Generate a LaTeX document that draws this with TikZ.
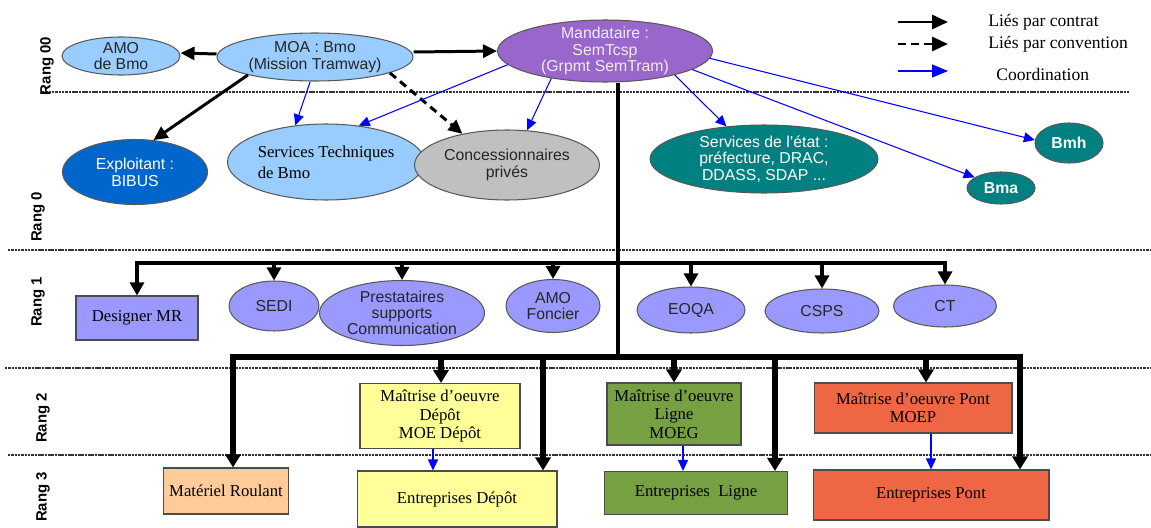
\documentclass[tikz,border=0pt]{standalone}
\usepackage{fontspec}
\setmainfont{Liberation Serif}
\setsansfont{Liberation Sans}
\usetikzlibrary{arrows.meta, shapes.geometric, calc}
\definecolor{cltblue}{HTML}{99CCFF}
\definecolor{cpurple}{HTML}{9966CC}
\definecolor{cdkblue}{HTML}{0066CC}
\definecolor{cgrey}{HTML}{C0C0C0}
\definecolor{cteal}{HTML}{008080}
\definecolor{cperi}{HTML}{9999FF}
\definecolor{cyellow}{HTML}{FFFF99}
\definecolor{cgreen}{HTML}{77A043}
\definecolor{cred}{HTML}{EE6644}
\definecolor{corange}{HTML}{FFCC99}
\tikzset{
  ell/.style={ellipse, draw=black!65, fill=#1, align=center, inner sep=-1.5pt, line width=0.6pt, text=black!85, font=\sffamily\fontsize{9}{9.5}\selectfont},
  rect/.style={rectangle, draw=black!70, fill=#1, align=center, inner sep=1pt, line width=0.6pt, font=\rmfamily\fontsize{9.5}{10.5}\selectfont},
  contract/.style={-{Triangle[length=0.28cm, width=0.26cm]}, line width=1.7pt},
  convention/.style={contract, dash pattern=on 4.5pt off 3pt},
  coord/.style={-{Triangle[length=0.22cm, width=0.2cm]}, draw=blue, line width=0.6pt},
  bus/.style={-{Triangle[length=0.26cm, width=0.28cm]}, line width=1.8pt},
  busbig/.style={-{Triangle[length=0.26cm, width=0.3cm]}, line width=2.9pt},
  sep/.style={draw=black!80, line width=0.7pt, dash pattern=on 1.4pt off 0.5pt},
  rang/.style={rotate=90, font=\sffamily\bfseries\fontsize{8.5}{9}\selectfont},
}
\begin{document}
\begin{tikzpicture}[x=0.02cm, y=-0.02cm, lbl/.style={font=\rmfamily\fontsize{10}{11}\selectfont, anchor=west, inner sep=0pt}]
\useasboundingbox (0,0) rectangle (1151,527);
% separations des rangs
\draw[sep] (42,92) -- (1130,92);
\draw[sep] (8,250) -- (1151,250);
\draw[sep] (5,368) -- (1151,368);
\draw[sep] (8,455) -- (1151,455);
\node[rang] (r00) at (47,66) {Rang 00};
\node[rang] (r0) at (38,217) {Rang 0};
\node[rang] (r1) at (38,302) {Rang 1};
\node[rang] (r2) at (43,418) {Rang 2};
\node[rang] (r3) at (43,497) {Rang 3};
% legende
\node[lbl] (lg1) at (988,22) {Liés par contrat};
\node[lbl] (lg2) at (988,44) {Liés par convention};
\node[lbl] (lg3) at (996,74) {Coordination};
\draw[contract, -{Triangle[length=0.32cm, width=0.28cm]}] ($(lg1.west)+(-90,0)$) -- ($(lg1.west)+(-40,0)$);
\draw[convention, -{Triangle[length=0.32cm, width=0.28cm]}] ($(lg2.west)+(-90,0)$) -- ($(lg2.west)+(-40,0)$);
\draw[coord, -{Triangle[length=0.32cm, width=0.26cm]}] ($(lg3.west)+(-98,-3)$) -- ($(lg3.west)+(-48,-3)$);
% Rang 00
\node[ell=cltblue, minimum width=2.36cm, minimum height=0.76cm] (amo) at (121,56) {AMO\\de Bmo};
\node[ell=cltblue, minimum width=3.92cm, minimum height=0.96cm] (moa) at (315,57) {MOA : Bmo\\(Mission Tramway)};
\node[ell=cpurple, minimum width=4.3cm, minimum height=1.24cm, text=white!93!black] (mand) at (605,51) {Mandataire :\\SemTcsp\\(Grpmt SemTram)};
% Rang 0
\node[ell=cdkblue, minimum width=2.9cm, minimum height=1.3cm, text=white] (expl) at (135,172) {Exploitant :\\BIBUS};
\node[ell=cltblue, minimum width=3.94cm, minimum height=1.52cm, align=left, text=black, font=\rmfamily\fontsize{9.5}{12}\selectfont] (stech) at (326,162) {Services Techniques\\de Bmo};
\node[ell=cgrey, minimum width=3.7cm, minimum height=1.4cm] (conc) at (507,165) {Concessionnaires\\privés};
\node[ell=cteal, minimum width=4.56cm, minimum height=1.36cm, text=white] (etat) at (764,159) {Services de l'état :\\préfecture, DRAC,\\DDASS, SDAP ...};
\node[ell=cteal, minimum width=1.36cm, minimum height=0.8cm, text=white, font=\sffamily\bfseries\fontsize{9}{9.5}\selectfont] (bmh) at (1069,143) {Bmh};
\node[ell=cteal, minimum width=1.36cm, minimum height=0.64cm, text=white, font=\sffamily\bfseries\fontsize{9}{9.5}\selectfont] (bma) at (1001,188) {Bma};
\draw[contract] ([yshift=0.06cm]moa.west) -- ([yshift=0.06cm]amo.east);
\draw[contract] ([yshift=0.1cm]moa.east) -- (mand.west);
\draw[contract] (moa.195) -- (expl.60);
\draw[convention] (moa.348) -- (conc.145);
\draw[coord] (moa.259) -- (stech.130);
\draw[coord] (mand.188) -- (stech.48);
\draw[coord] (mand.207) -- (conc.60);
\draw[coord] (mand.341) -- (etat.139);
\draw[coord] (mand.348) -- (bma.158);
\draw[coord] (mand.356) -- (bmh.175);
% Rang 1
\node[rect=cperi, minimum width=2.44cm, minimum height=0.88cm] (designer) at (137,318) {Designer MR};
\node[ell=cperi, minimum width=1.8cm, minimum height=1.0cm] (sedi) at (274,306) {SEDI};
\node[ell=cperi, minimum width=3.3cm, minimum height=1.3cm, font=\sffamily\fontsize{9}{9}\selectfont] (prest) at (402,313) {Prestataires\\supports\\Communication};
\node[ell=cperi, minimum width=1.88cm, minimum height=1.06cm] (amof) at (553,306) {AMO\\Foncier};
\node[ell=cperi, minimum width=2.16cm, minimum height=0.92cm] (eoqa) at (691,310) {EOQA};
\node[ell=cperi, minimum width=2.28cm, minimum height=0.88cm] (csps) at (822,311) {CSPS};
\node[ell=cperi, minimum width=2.06cm, minimum height=0.84cm] (ct) at (945,306) {CT};
\coordinate (j1) at (618,263);
\coordinate (j2) at (618,357);
\draw[line width=2.3pt] (mand.south -| j1) -- (j2);
\draw[bus] (j1) -| (designer.north);
\draw[bus] (j1) -| (ct.north);
\foreach \n in {sedi,prest,amof,eoqa,csps}
  \draw[bus] (\n.north |- j1) -- (\n.north);
% Rang 2
\node[rect=cyellow, minimum width=3.2cm, minimum height=1.3cm] (moed) at (440,416) {Maîtrise d'oeuvre\\Dépôt\\MOE Dépôt};
\node[rect=cgreen, minimum width=2.68cm, minimum height=1.24cm] (moel) at (674,414) {Maîtrise d'oeuvre\\Ligne\\MOEG};
\node[rect=cred, minimum width=3.96cm, minimum height=1.0cm] (moep) at (913,408) {Maîtrise d'oeuvre Pont\\MOEP};
% Rang 3
\node[rect=corange, minimum width=2.5cm, minimum height=0.92cm] (matr) at (226,491) {Matériel Roulant};
\node[rect=cyellow, minimum width=4.0cm, minimum height=1.12cm] (entd) at (457,499) {Entreprises Dépôt};
\node[rect=cgreen, minimum width=3.66cm, minimum height=0.86cm] (entl) at (696,493) {Entreprises~~Ligne};
\node[rect=cred, minimum width=4.72cm, minimum height=1.0cm] (entp) at (931,495) {Entreprises Pont};
\coordinate (b2l) at (233,357);
\coordinate (b2r) at (1020,357);
\draw[busbig] (j2) -- (b2l) -- (b2l |- matr.north);
\draw[busbig] (j2) -- (b2r) -- (b2r |- entp.north);
\foreach \xx/\n in {441/moed, 543/entd, 674/moel, 775/entl, 926/moep} {
  \coordinate (d) at (\xx,357);
  \draw[busbig] (d) -- (d |- \n.north);
}
\draw[coord] ([xshift=-0.14cm]moed.south) -- ([xshift=-0.14cm]moed.south |- entd.north);
\draw[coord] ([xshift=0.18cm]moel.south) -- ([xshift=0.18cm]moel.south |- entl.north);
\draw[coord] (entp.north |- moep.south) -- (entp.north);
\end{tikzpicture}
\end{document}
